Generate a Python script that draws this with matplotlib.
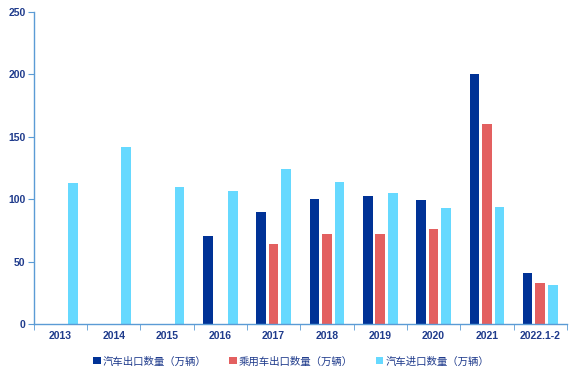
import matplotlib
matplotlib.use("Agg")
import matplotlib.pyplot as plt
import numpy as np

plt.rcParams['font.family'] = ['Liberation Sans', 'Noto Sans CJK SC', 'DejaVu Sans']

years = ['2013', '2014', '2015', '2016', '2017', '2018', '2019', '2020', '2021', '2022.1-2']
car_export = [0, 0, 0, 70.5, 89.7, 100, 102.6, 99.4, 200, 41]
passenger_export = [0, 0, 0, 0, 64.3, 72, 72, 76, 160, 33]
car_import = [113, 142, 110, 106.6, 124, 114, 105, 93, 94, 31]
labels = ['汽车出口数量（万辆）', '乘用车出口数量（万辆）', '汽车进口数量（万辆）']

c_dark = '#003296'
c_red = '#E36060'
c_light = '#66D9FF'
c_text = '#1F3B8C'
c_axis = '#5B9BD5'

fig = plt.figure(figsize=(5.82, 3.73), dpi=100)
ax = fig.add_axes([0.058, 0.131, 0.916, 0.837])

x = np.arange(len(years))
w = 0.18
off = 0.235
ax.bar(x - off, car_export, w, color=c_dark, label=labels[0])
ax.bar(x, passenger_export, w, color=c_red, label=labels[1])
ax.bar(x + off, car_import, w, color=c_light, label=labels[2])

ax.set_xlim(-0.5, len(years) - 0.5)
ax.set_ylim(0, 250)
ax.set_yticks(range(0, 251, 50))
ax.set_xticks(x)
ax.set_xticklabels(years)
ax.set_xticks(np.arange(-0.5, len(years), 1), minor=True)
ax.tick_params(axis='x', which='major', length=0, pad=5, labelsize=7.5, labelcolor=c_text)
ax.tick_params(axis='x', which='minor', length=4, color=c_axis, direction='out')
ax.tick_params(axis='y', length=4, color=c_axis, direction='out', labelsize=7.5, labelcolor=c_text, pad=2)
for lab in ax.get_xticklabels() + ax.get_yticklabels():
    lab.set_fontweight('bold')

for s in ['top', 'right']:
    ax.spines[s].set_visible(False)
for s in ['left', 'bottom']:
    ax.spines[s].set_color(c_axis)
    ax.spines[s].set_linewidth(1)

leg = ax.legend(loc='upper center', bbox_to_anchor=(0.483, -0.073), ncol=3, frameon=False,
                handlelength=0.7, handleheight=0.7, handletextpad=0.2,
                columnspacing=2.2, labelcolor=c_text,
                prop={'family': ['Noto Sans CJK SC', 'DejaVu Sans'], 'size': 7.5})

fig.savefig('out.png', dpi=100)
